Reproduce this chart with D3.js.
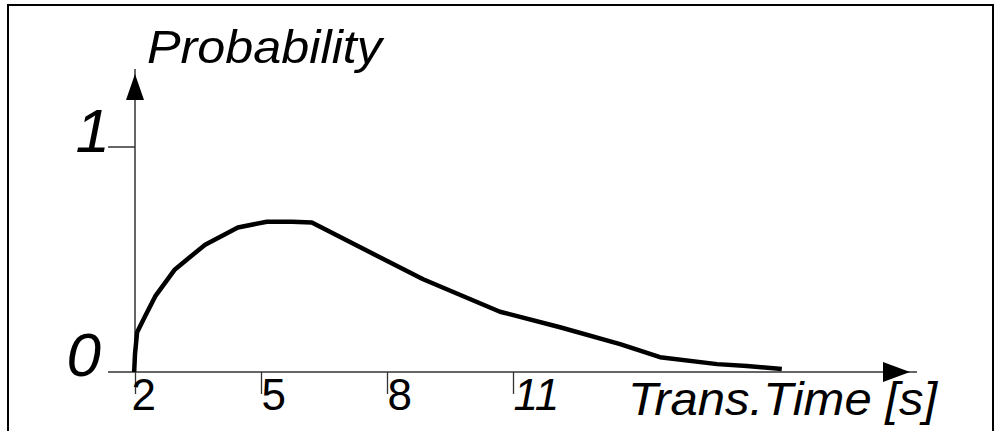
<!DOCTYPE html>
<html>
<head>
<meta charset="utf-8">
<script src="https://cdn.jsdelivr.net/npm/d3@7"></script>
<style>
  html, body { margin: 0; padding: 0; background: #fff; }
  svg { display: block; }
  text { font-family: "Liberation Sans", Arial, sans-serif; fill: #000; }
</style>
</head>
<body>
<svg id="chart" width="997" height="431"></svg>
<script>
// ---- data ----
const transTime   = [1.98, 2.0, 2.05, 2.24, 2.48, 2.95, 3.67, 4.45, 5.14, 5.74, 6.21, 8.86, 10.69, 12.12, 13.55, 14.5, 15.86, 16.57, 17.4];
const probability = [0.0, 0.08, 0.177, 0.248, 0.336, 0.456, 0.566, 0.642, 0.668, 0.668, 0.664, 0.412, 0.268, 0.199, 0.124, 0.066, 0.035, 0.027, 0.013];
const xTickValues = [2, 5, 8, 11];
const xTickLabels = ["2", "5", "8", "11"];
const yTickValues = [0, 1];
const yTickLabels = ["0", "1"];
const xTitle = "Trans.Time [s]";
const yTitle = "Probability";

const svg = d3.select("#chart");

const x = d3.scaleLinear().domain([2, 11]).range([135, 513]);
const y = d3.scaleLinear().domain([0, 1]).range([372, 147]);

// frame (no bottom edge)
svg.append("path")
  .attr("d", "M8,431 L8,5 L993,5 L993,431")
  .attr("fill", "none").attr("stroke", "#000").attr("stroke-width", 2);

// x axis ticks via d3.axisBottom
const xAxis = d3.axisBottom(x)
  .tickValues(xTickValues)
  .tickFormat((d, i) => xTickLabels[i])
  .tickSize(22)
  .tickPadding(0);
const gx = svg.append("g").attr("transform", `translate(0,${y(0)})`).call(xAxis);
gx.select(".domain").remove();
gx.selectAll(".tick line").attr("stroke", "#333").attr("stroke-width", 1.3);
gx.selectAll(".tick text")
  .attr("text-anchor", "start")
  .attr("x", d => d === 2 ? -4 : 0)
  .attr("y", 38)
  .attr("dy", null)
  .style("font-size", "44px")
  .style("font-style", d => d === 11 ? "italic" : "normal")
  .style("font-family", '"Liberation Sans", Arial, sans-serif');

// x axis line + arrow
svg.append("line")
  .attr("x1", 108).attr("x2", 917)
  .attr("y1", y(0)).attr("y2", y(0))
  .attr("stroke", "#333").attr("stroke-width", 1.5);
svg.append("path")
  .attr("d", `M883,${y(0) - 10} L883,${y(0) + 10} L910,${y(0)} Z`)
  .attr("fill", "#000");

// y axis line + arrow
svg.append("line")
  .attr("x1", x(2)).attr("x2", x(2))
  .attr("y1", y(0)).attr("y2", 69)
  .attr("stroke", "#333").attr("stroke-width", 1.5);
svg.append("path")
  .attr("d", `M${x(2) - 9},100 L${x(2) + 9},100 L${x(2)},74 Z`)
  .attr("fill", "#000");

// y tick at 1
svg.append("line")
  .attr("x1", 108).attr("x2", x(2))
  .attr("y1", y(1)).attr("y2", y(1))
  .attr("stroke", "#333").attr("stroke-width", 1.5);

// y tick labels
svg.selectAll(".ylab").data(yTickValues).enter().append("text")
  .attr("class", "ylab")
  .attr("text-anchor", "end")
  .attr("x", d => d === 1 ? 110 : 101)
  .attr("y", d => d === 1 ? y(1) + 5 : y(0) + 4)
  .style("font-size", "62px")
  .style("font-style", "italic")
  .text((d, i) => yTickLabels[i]);

// titles
svg.append("text")
  .attr("x", 147).attr("y", 63)
  .attr("textLength", 235).attr("lengthAdjust", "spacingAndGlyphs")
  .style("font-size", "46px").style("font-style", "italic")
  .text(yTitle);
svg.append("text")
  .attr("x", 628).attr("y", 415)
  .attr("textLength", 309).attr("lengthAdjust", "spacingAndGlyphs")
  .style("font-size", "46px").style("font-style", "italic")
  .text(xTitle);

// curve
const pts = transTime.map((t, i) => [t, probability[i]]);
svg.append("path")
  .datum(pts)
  .attr("d", d3.line().x(d => x(d[0])).y(d => y(d[1])).curve(d3.curveLinear))
  .attr("fill", "none").attr("stroke", "#000").attr("stroke-width", 4.5)
  .attr("stroke-linejoin", "round");
</script>
</body>
</html>
